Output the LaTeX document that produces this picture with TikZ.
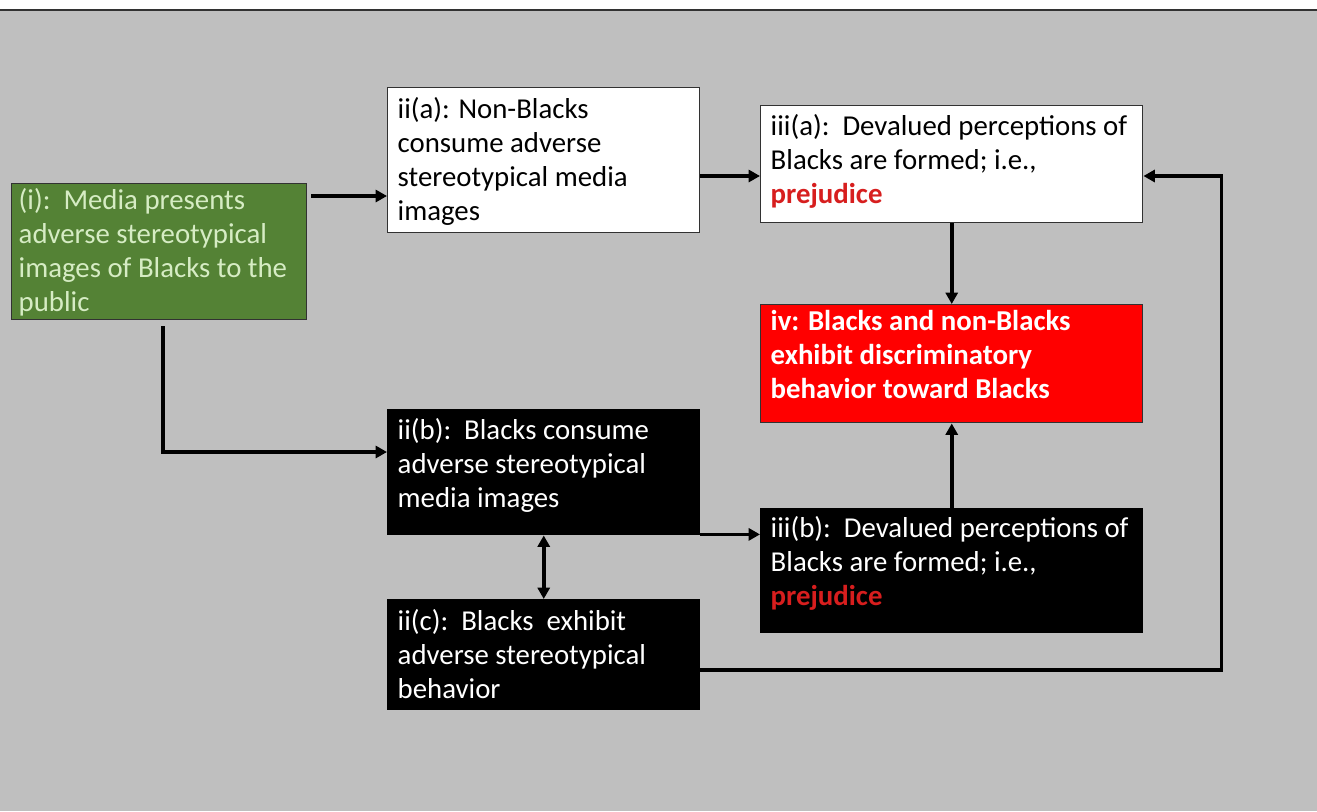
\documentclass[tikz,border=0pt]{standalone}
\usepackage{fontspec}
\setmainfont{Carlito}
\usetikzlibrary{arrows.meta,calc}
\newdimen\pxu \pxu=0.75pt
\definecolor{bggray}{RGB}{191,191,191}
\definecolor{boxgreen}{RGB}{84,130,53}
\definecolor{greentext}{RGB}{214,236,196}
\definecolor{boxred}{RGB}{255,0,0}
\definecolor{prejred}{RGB}{215,30,30}
\definecolor{edgegray}{RGB}{50,50,50}
\newcommand{\bt}[4]{\parbox[c][#2\pxu][t]{#1\pxu}{\raggedright\rule{0pt}{#3\pxu}#4}}
\tikzset{
  box/.style={draw=edgegray, line width=1.1pt, anchor=north west, inner ysep=0pt, inner xsep=10\pxu, font=\fontsize{21.6}{25.5}\selectfont},
  greenbox/.style={box, fill=boxgreen, text=greentext, inner xsep=7\pxu},
  whitebox/.style={box, fill=white, text=black},
  blackbox/.style={box, fill=black, draw=black, text=white},
  redbox/.style={box, fill=boxred, draw=edgegray, text=white},
  arr/.style={line width=2.8pt, -{Triangle[length=8.5pt,width=9pt]}},
  dblarr/.style={line width=2.8pt, {Triangle[length=8.5pt,width=9pt]}-{Triangle[length=8.5pt,width=9pt]}}
}
\begin{document}
\begin{tikzpicture}[x=0.75pt,y=-0.75pt]
\useasboundingbox (0,0) rectangle (1317,811);
\fill[white] (0,0) rectangle (1317,811);
\fill[bggray] (0,10) rectangle (1317,811);
\draw[edgegray, line width=1.5pt] (0,10) -- (1317,10);

\node[greenbox] (ia) at (11,183) {\bt{281}{136}{26}{(i):\ \ Media presents\\adverse stereotypical\\images of Blacks to the\\public}};
\node[whitebox] (iia) at (387,87) {\bt{292}{145}{31}{ii(a): Non-Blacks\\consume adverse\\stereotypical media\\images}};
\node[whitebox] (iiia) at (760,105) {\bt{362}{117}{30}{iii(a):\ \ Devalued perceptions of\\Blacks are formed; i.e.,\\\textcolor{prejred}{\textbf{prejudice}}}};
\node[redbox] (iv) at (760,304) {\bt{362}{118}{26}{\textbf{iv: Blacks and non-Blacks}\\\textbf{exhibit discriminatory}\\\textbf{behavior toward Blacks}}};
\node[blackbox] (iib) at (387,409) {\bt{292}{125}{30}{ii(b):\ \ Blacks consume\\adverse stereotypical\\media images}};
\node[blackbox] (iiib) at (760,508) {\bt{362}{124}{29}{iii(b):\ \ Devalued perceptions of\\Blacks are formed; i.e.,\\\textcolor{prejred}{\textbf{prejudice}}}};
\node[blackbox] (iic) at (387,599) {\bt{292}{110}{31}{ii(c):\ \ Blacks\ \ exhibit\\adverse stereotypical\\behavior}};

% connectors
\coordinate (p1) at ($(ia.north east)+(4,13)$);
\draw[arr] (p1) -- (p1 -| iia.west);
\coordinate (p2) at ($(iib.north west)+(0,43)$);
\draw[arr, shorten <=6\pxu] ([xshift=2.6pt]ia.south) |- (p2);
\coordinate (p3) at ($(iiia.north west)+(0,71)$);
\draw[arr] (iia.east |- p3) -- (p3);
\draw[arr] (iiia.south) -- (iv.north);
\draw[arr] (iiib.north) -- (iv.south);
\draw[dblarr] (iib.south) -- (iic.north);
\draw[arr] ([yshift=0.8pt]iib.south east) -- ([yshift=0.8pt]iib.south east -| iiib.west);
\coordinate (p4) at ($(iic.north east)+(0,71)$);
\coordinate (p5) at ($(iiia.north east)+(78,71)$);
\draw[arr] (p4) -| (p5) -- (p5 -| iiia.east);
\end{tikzpicture}
\end{document}
